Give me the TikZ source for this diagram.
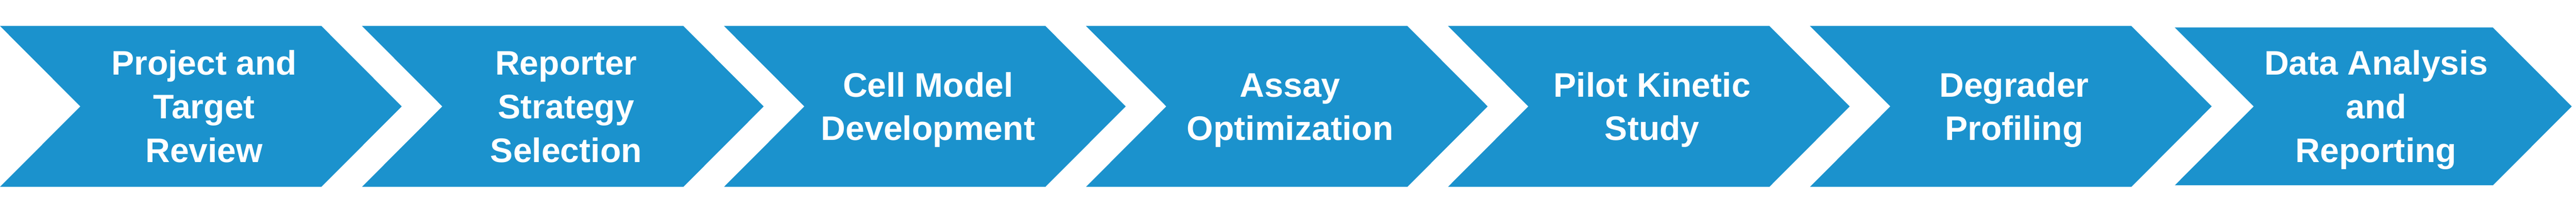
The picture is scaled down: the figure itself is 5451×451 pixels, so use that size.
\documentclass[tikz,border=0pt]{standalone}
\usepackage{fontspec}
\setmainfont{Liberation Sans}
\usepackage{tikz}
\definecolor{stepblue}{RGB}{27,146,205}
\newcommand{\capstrut}{\rule[-0.234em]{0pt}{1.184em}}

\begin{document}
\begin{tikzpicture}[x=0.01cm,y=0.01cm,
        chev/.style={fill=stepblue},
        steptext/.style={text=white,align=center,inner sep=0,
          font=\fontsize{20.5}{26.3}\selectfont\bfseries}]
      \useasboundingbox (0,0) rectangle (5451,451);
      \foreach \i/\txt in {0/{Project and\\Target\\Review},1/{Reporter\\Strategy\\Selection},
          2/{Cell Model\\Development},3/{Assay\\Optimization},
          4/{Pilot Kinetic\\Study},5/{Degrader\\Profiling}}
      {
        \pgfmathsetmacro\x{766*\i}
        \fill[chev] (\x,396) -- (\x+680,396) -- (\x+850,225.5) -- (\x+680,55)
                    -- (\x,55) -- (\x+170,225.5) -- cycle;
        \node[steptext] (s\i) at (\x+432,225.5) {\capstrut\txt\capstrut};
      }
      % last step, a bit smaller
      \fill[chev] (4602,392.7) -- (5275,392.7) -- (5442,225.5) -- (5275,58.3)
                  -- (4602,58.3) -- (4769,225.5) -- cycle;
      \node[steptext] (s6) at (5028,225.5) {\capstrut Data Analysis\\and\\Reporting\capstrut};
      \end{tikzpicture}
\end{document}
